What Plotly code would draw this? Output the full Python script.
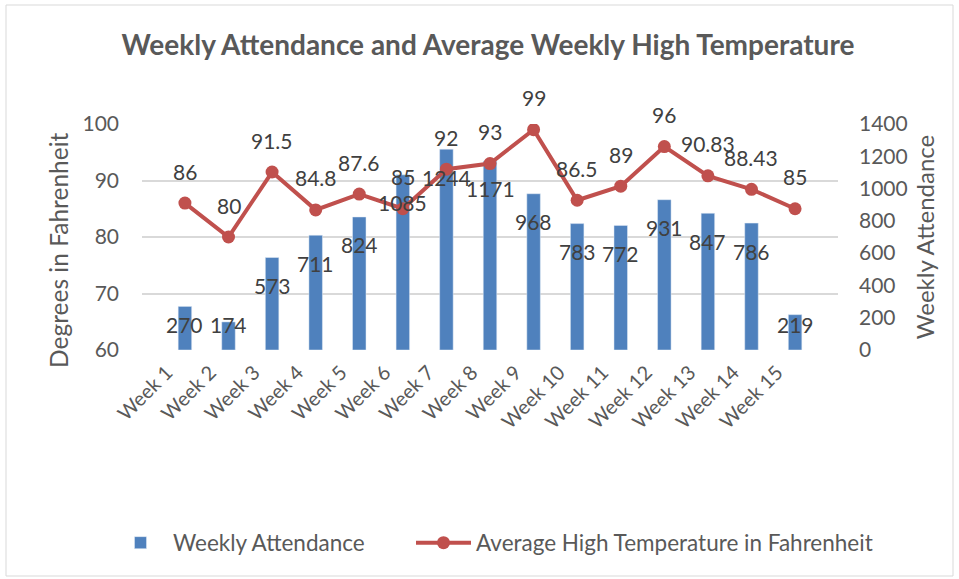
import plotly.graph_objects as go

weeks = [f"Week {i}" for i in range(1, 16)]
attendance = [270, 174, 573, 711, 824, 1085, 1244, 1171, 968, 783, 772, 931, 847, 786, 219]
temps = [86, 80, 91.5, 84.8, 87.6, 85, 92, 93, 99, 86.5, 89, 96, 90.83, 88.43, 85]
temp_labels = ["86", "80", "91.5", "84.8", "87.6", "85", "92", "93", "99", "86.5", "89", "96", "90.83", "88.43", "85"]

BAR_COLOR = "#4F81BD"
LINE_COLOR = "#C0504D"
TXT = "#595959"
LBL = "#404040"
FONT = "Lato, Liberation Sans, sans-serif"

fig = go.Figure()
fig.add_trace(go.Bar(
    x=weeks, y=attendance, name="Weekly Attendance",
    marker=dict(color=BAR_COLOR), width=0.31, yaxis="y", legend="legend",
))
fig.add_trace(go.Scatter(
    x=weeks, y=temps, name="Average High Temperature in Fahrenheit",
    mode="lines+markers", yaxis="y2", legend="legend2",
    line=dict(color=LINE_COLOR, width=4),
    marker=dict(color=LINE_COLOR, size=13),
))

W, H = 959, 579
L, R, T, B = 142, 121, 124, 229
pw, ph = W - L - R, H - T - B

# data labels
LABEL_DROP = 173   # attendance units below bar top (inside end)
LABEL_FLOOR = 155
annotations = []
for w, v in zip(weeks, attendance):
    annotations.append(dict(
        x=w, y=max(v - LABEL_DROP, LABEL_FLOOR), xref="x", yref="y",
        text=str(v), showarrow=False, font=dict(family=FONT, size=21, color=LBL),
    ))
for w, t, s in zip(weeks, temps, temp_labels):
    annotations.append(dict(
        x=w, y=t, xref="x", yref="y2", yshift=32,
        text=s, showarrow=False, font=dict(family=FONT, size=21, color=LBL),
    ))
# left axis title
annotations.append(dict(
    text="Degrees in Fahrenheit", textangle=-90, showarrow=False,
    xref="paper", yref="paper", x=(58 - L) / pw, y=(350 - 250) / ph,
    xanchor="center", yanchor="middle",
    font=dict(family=FONT, size=24.5, color=TXT),
))

legend_common = dict(
    orientation="h", xanchor="left",
    yref="container", y=1 - 543 / H, yanchor="middle",
    font=dict(family=FONT, size=22.5, color=TXT),
    itemwidth=55, bgcolor="rgba(0,0,0,0)",
)

fig.update_layout(
    width=W, height=H,
    margin=dict(l=L, r=R, t=T, b=B, autoexpand=False),
    paper_bgcolor="white", plot_bgcolor="white",
    font=dict(family=FONT, color=TXT, size=20),
    title=dict(
        text="<b>Weekly Attendance and Average Weekly High Temperature</b>",
        x=488 / W, xanchor="center", xref="container",
        y=1 - 45 / H, yanchor="middle", yref="container",
        font=dict(family=FONT, size=28, color=TXT),
    ),
    bargap=0.69,
    showlegend=True,
    legend=dict(xref="container", x=108 / W, **legend_common),
    legend2=dict(xref="container", x=411 / W, **legend_common),
    xaxis=dict(
        tickangle=-45, showgrid=False, showline=False, ticks="",
        ticklabelshift=-18, ticklabelstandoff=6,
        tickfont=dict(family=FONT, size=20, color=TXT),
    ),
    yaxis=dict(
        side="right", range=[0, 1400], dtick=200, showgrid=False,
        zeroline=False, showline=False, ticks="",
        ticklabelstandoff=20,
        tickfont=dict(family=FONT, size=21, color=TXT),
        title=dict(text="Weekly Attendance", font=dict(family=FONT, size=24, color=TXT), standoff=10),
    ),
    yaxis2=dict(
        side="left", overlaying="y", range=[60, 100], dtick=10,
        showgrid=True, gridcolor="#D9D9D9", gridwidth=1.5,
        zeroline=False, showline=False, ticks="",
        ticklabelstandoff=22,
        tickfont=dict(family=FONT, size=21, color=TXT),
    ),
    annotations=annotations,
    shapes=[dict(
        type="rect", xref="paper", yref="paper",
        x0=(6 - L) / pw, x1=(953 - L) / pw,
        y0=(350 - 576) / ph, y1=(350 - 5) / ph,
        line=dict(color="#D9D9D9", width=1), fillcolor="rgba(0,0,0,0)", layer="below",
    )],
)

fig.write_html("out.html", config={"displayModeBar": False},
               post_script="document.body.style.margin='0';")
